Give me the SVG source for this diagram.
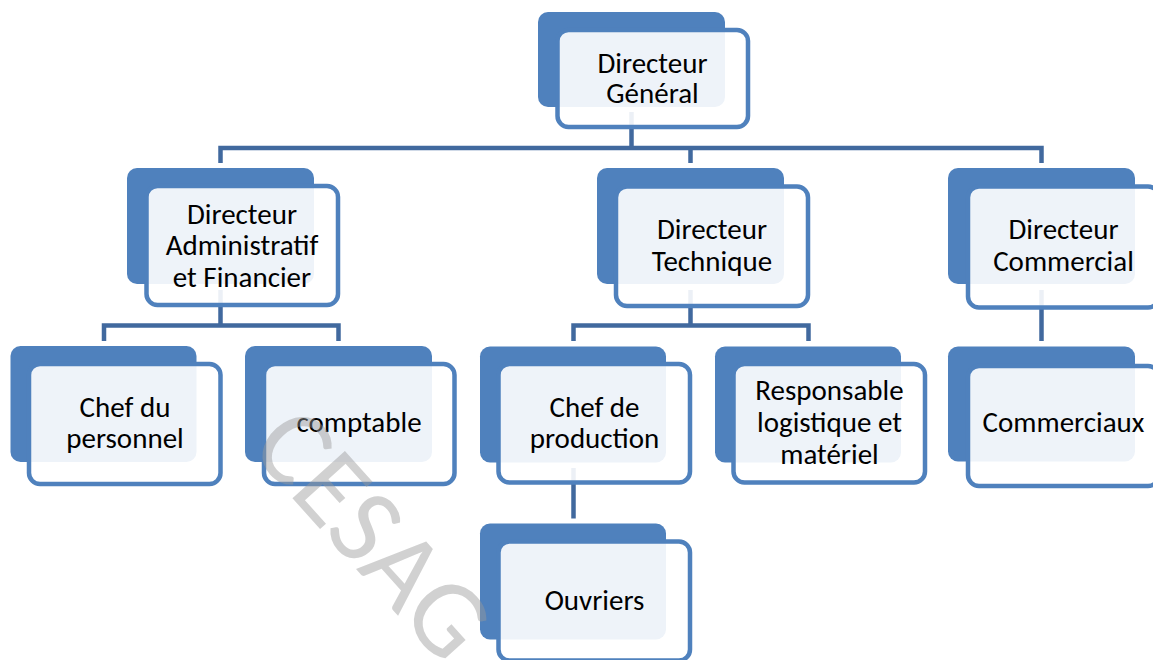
<svg xmlns="http://www.w3.org/2000/svg" width="1153" height="660" viewBox="0 0 1153 660">
<style>
.back{fill:#4F81BD}
.front{fill:#FFFFFF;fill-opacity:0.9;stroke:#4F81BD;stroke-width:4.5}
.conn{fill:none;stroke:#41699E;stroke-width:4.5;stroke-linejoin:miter;stroke-linecap:butt}
.t{font-family:Carlito,Lato,"Liberation Sans",sans-serif;font-size:29px;fill:#000;text-anchor:middle}
.wm{font-family:Carlito,Lato,"Liberation Sans",sans-serif;font-size:110px;fill:#9A9A9A;fill-opacity:0.45;text-anchor:middle}
</style>
<rect width="1153" height="660" fill="#FFFFFF"/>
<g id="connectors">
<path class="conn" d="M631.5,112 V148 M220.5,163 V148 H1041.5 V163 M690.5,148 V163"/>
<path class="conn" d="M220.5,290 V325.5 M104,341 V325.5 H338.5 V341"/>
<path class="conn" d="M690.5,290 V325.5 M573.5,341 V325.5 H808.5 V341"/>
<path class="conn" d="M1041.5,290 V341"/>
<path class="conn" d="M573.5,468 V518.5"/>
</g>
<g id="n-dg">
<rect class="back" x="538" y="12" width="187" height="95" rx="10"/>
<rect class="front" x="557.5" y="30" width="190.5" height="97" rx="11"/>
<text class="t" x="652.5" y="72.5">Directeur<tspan x="652.5" dy="30">Général</tspan></text>
</g>
<g id="n-daf">
<rect class="back" x="127" y="168" width="187" height="116" rx="10"/>
<rect class="front" x="146.5" y="186" width="191.5" height="119" rx="11"/>
<text class="t" x="242" y="223.5">Directeur<tspan x="242" dy="31.5">Administratif</tspan><tspan x="242" dy="32">et Financier</tspan></text>
</g>
<g id="n-dt">
<rect class="back" x="597" y="168" width="187" height="116" rx="10"/>
<rect class="front" x="616" y="186.5" width="192" height="119.5" rx="11"/>
<text class="t" x="712" y="239">Directeur<tspan x="712" dy="31.5">Technique</tspan></text>
</g>
<g id="n-dc">
<rect class="back" x="948" y="168" width="187" height="116" rx="10"/>
<rect class="front" x="968" y="186.5" width="191" height="121" rx="11"/>
<text class="t" x="1063.5" y="239">Directeur<tspan x="1063.5" dy="31.5">Commercial</tspan></text>
</g>
<g id="n-cdp">
<rect class="back" x="10.5" y="346" width="186" height="116" rx="10"/>
<rect class="front" x="29" y="364" width="191.5" height="120" rx="11"/>
<text class="t" x="125" y="416.5">Chef du<tspan x="125" dy="31.5">personnel</tspan></text>
</g>
<g id="n-compt">
<rect class="back" x="245" y="346" width="187" height="116" rx="10"/>
<rect class="front" x="264" y="364" width="190.5" height="120" rx="11"/>
<text class="t" x="359" y="431.5">comptable</text>
</g>
<g id="n-prod">
<rect class="back" x="480" y="346.5" width="186" height="116" rx="10"/>
<rect class="front" x="498.5" y="364" width="191.5" height="118.5" rx="11"/>
<text class="t" x="594.5" y="416.5">Chef de<tspan x="594.5" dy="31.5">production</tspan></text>
</g>
<g id="n-resp">
<rect class="back" x="715" y="346.5" width="186" height="116" rx="10"/>
<rect class="front" x="733.5" y="364" width="191.5" height="118.5" rx="11"/>
<text class="t" x="829.5" y="400">Responsable<tspan x="829.5" dy="31.5">logistique et</tspan><tspan x="829.5" dy="32">matériel</tspan></text>
</g>
<g id="n-comm">
<rect class="back" x="948" y="346.5" width="187" height="115" rx="10"/>
<rect class="front" x="968" y="366" width="191" height="120" rx="11"/>
<text class="t" x="1063.5" y="431.5">Commerciaux</text>
</g>
<g id="n-ouv">
<rect class="back" x="480" y="523.5" width="186" height="116" rx="10"/>
<rect class="front" x="498.5" y="541.5" width="191.5" height="119" rx="11"/>
<text class="t" x="594.5" y="610">Ouvriers</text>
</g>
<text class="wm" transform="translate(346,558) rotate(48)">CESAG</text>
</svg>
